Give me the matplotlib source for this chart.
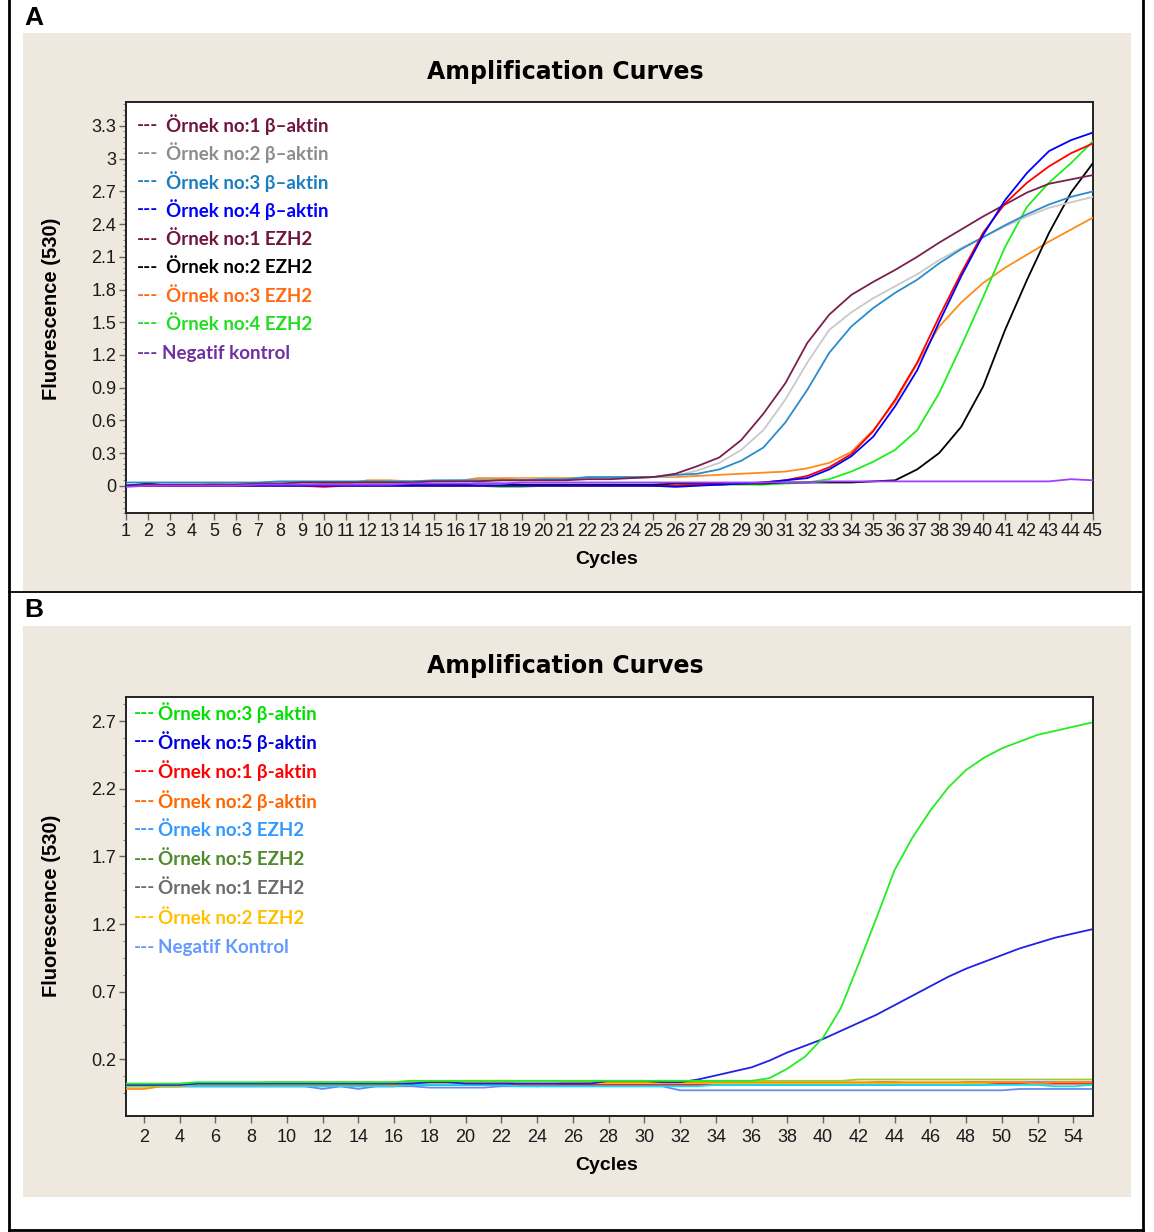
import matplotlib
matplotlib.use("Agg")
import matplotlib.pyplot as plt
from matplotlib.ticker import FixedLocator, MultipleLocator
from matplotlib.lines import Line2D
from matplotlib.patches import Rectangle

# ---------------- DATA : panel A ----------------
cycles_a = list(range(1, 46))
a_b1_aktin = [0.00, 0.01, 0.01, 0.01, 0.01, 0.01, 0.02, 0.02, 0.03, 0.03,
              0.03, 0.03, 0.03, 0.03, 0.04, 0.04, 0.04, 0.05, 0.05, 0.05,
              0.05, 0.06, 0.06, 0.07, 0.08, 0.11, 0.18, 0.26, 0.42, 0.66,
              0.94, 1.31, 1.57, 1.75, 1.87, 1.98, 2.10, 2.23, 2.35, 2.47,
              2.58, 2.69, 2.77, 2.81, 2.85]
a_b2_aktin = [0.00, 0.00, 0.01, 0.01, 0.01, 0.02, 0.02, 0.02, 0.02, 0.03,
              0.03, 0.03, 0.04, 0.04, 0.04, 0.05, 0.05, 0.05, 0.06, 0.06,
              0.06, 0.07, 0.07, 0.07, 0.08, 0.09, 0.14, 0.21, 0.33, 0.51,
              0.79, 1.13, 1.43, 1.59, 1.72, 1.83, 1.94, 2.07, 2.18, 2.28,
              2.38, 2.47, 2.55, 2.60, 2.65]
a_b3_aktin = [0.03, 0.03, 0.03, 0.03, 0.03, 0.03, 0.03, 0.04, 0.04, 0.04,
              0.04, 0.04, 0.04, 0.04, 0.05, 0.05, 0.05, 0.05, 0.05, 0.06,
              0.06, 0.08, 0.08, 0.08, 0.08, 0.10, 0.11, 0.15, 0.23, 0.35,
              0.58, 0.88, 1.22, 1.46, 1.63, 1.77, 1.89, 2.04, 2.17, 2.28,
              2.39, 2.49, 2.58, 2.65, 2.70]
a_b4_aktin = [0.00, 0.00, 0.00, 0.00, 0.00, 0.00, 0.00, 0.00, 0.00, 0.00,
              0.00, 0.00, 0.00, 0.00, 0.00, 0.00, 0.00, 0.00, 0.00, 0.00,
              0.00, 0.00, 0.00, 0.00, 0.00, -0.01, 0.00, 0.01, 0.02, 0.03,
              0.05, 0.07, 0.15, 0.27, 0.45, 0.73, 1.06, 1.50, 1.92, 2.30,
              2.62, 2.87, 3.07, 3.17, 3.24]
a_e1_ezh2 = [0.00, 0.00, 0.00, 0.00, 0.00, 0.00, 0.00, 0.00, 0.00, -0.01,
             0.00, 0.00, 0.00, 0.00, 0.00, 0.00, 0.00, 0.00, 0.00, 0.00,
             0.00, 0.00, 0.00, 0.00, 0.00, 0.00, 0.01, 0.01, 0.02, 0.03,
             0.05, 0.09, 0.17, 0.29, 0.50, 0.79, 1.13, 1.55, 1.95, 2.32,
             2.59, 2.78, 2.93, 3.05, 3.14]
a_e2_ezh2 = [0.00, 0.02, 0.00, 0.00, 0.00, 0.00, 0.01, 0.01, 0.01, 0.01,
             0.01, 0.01, 0.01, 0.01, 0.01, 0.01, 0.02, 0.02, 0.01, 0.01,
             0.01, 0.01, 0.01, 0.01, 0.01, 0.02, 0.02, 0.02, 0.02, 0.02,
             0.03, 0.03, 0.03, 0.03, 0.04, 0.05, 0.15, 0.30, 0.54, 0.91,
             1.43, 1.89, 2.32, 2.69, 2.96]
a_e3_ezh2 = [0.00, 0.00, 0.00, 0.00, 0.02, 0.02, 0.02, 0.02, 0.02, 0.02,
             0.02, 0.05, 0.05, 0.04, 0.04, 0.04, 0.07, 0.07, 0.07, 0.07,
             0.07, 0.07, 0.07, 0.07, 0.08, 0.08, 0.09, 0.10, 0.11, 0.12,
             0.13, 0.16, 0.21, 0.31, 0.51, 0.77, 1.12, 1.46, 1.68, 1.86,
             2.00, 2.12, 2.24, 2.35, 2.46]
a_e4_ezh2 = [0.00, 0.00, 0.00, 0.00, 0.00, 0.00, 0.00, 0.00, 0.00, 0.00,
             0.00, 0.00, 0.00, 0.00, 0.00, 0.00, 0.00, -0.01, -0.01, 0.00,
             0.00, 0.00, 0.00, 0.00, 0.00, 0.00, 0.01, 0.01, 0.01, 0.01,
             0.02, 0.03, 0.06, 0.13, 0.22, 0.33, 0.51, 0.85, 1.28, 1.73,
             2.19, 2.56, 2.78, 2.96, 3.16]
a_negatif = [-0.01, 0.00, 0.00, 0.00, 0.00, 0.00, 0.01, 0.01, 0.01, 0.01,
             0.01, 0.01, 0.01, 0.02, 0.02, 0.02, 0.02, 0.02, 0.03, 0.03,
             0.03, 0.03, 0.03, 0.03, 0.03, 0.03, 0.03, 0.03, 0.03, 0.03,
             0.03, 0.03, 0.04, 0.04, 0.04, 0.04, 0.04, 0.04, 0.04, 0.04,
             0.04, 0.04, 0.04, 0.06, 0.05]
labels_a = ["Örnek no:1 β–aktin", "Örnek no:2 β–aktin", "Örnek no:3 β–aktin",
            "Örnek no:4 β–aktin", "Örnek no:1 EZH2", "Örnek no:2 EZH2",
            "Örnek no:3 EZH2", "Örnek no:4 EZH2", "Negatif kontrol"]
yticks_a = [0, 0.3, 0.6, 0.9, 1.2, 1.5, 1.8, 2.1, 2.4, 2.7, 3.0, 3.3]
ytick_labels_a = ["0", "0.3", "0.6", "0.9", "1.2", "1.5", "1.8", "2.1", "2.4", "2.7", "3", "3.3"]

# ---------------- DATA : panel B ----------------
cycles_b = list(range(1, 56))
b_b3_aktin = [0.02, 0.02, 0.02, 0.02, 0.03, 0.03, 0.03, 0.03, 0.03, 0.03, 0.03,
              0.03, 0.03, 0.03, 0.03, 0.03, 0.04, 0.04, 0.04, 0.04, 0.04, 0.04,
              0.04, 0.04, 0.04, 0.04, 0.04, 0.04, 0.04, 0.04, 0.04, 0.04, 0.04,
              0.04, 0.04, 0.04, 0.06, 0.13, 0.22, 0.36, 0.58, 0.91, 1.25, 1.60,
              1.84, 2.04, 2.21, 2.34, 2.43, 2.50, 2.55, 2.60, 2.63, 2.66, 2.69]
b_b5_aktin = [0.01, 0.01, 0.01, 0.01, 0.02, 0.02, 0.02, 0.02, 0.02, 0.02, 0.02,
              0.02, 0.02, 0.02, 0.02, 0.02, 0.02, 0.03, 0.03, 0.02, 0.02, 0.02,
              0.02, 0.02, 0.02, 0.02, 0.02, 0.04, 0.04, 0.04, 0.03, 0.03, 0.05,
              0.08, 0.11, 0.14, 0.19, 0.25, 0.30, 0.35, 0.41, 0.47, 0.53, 0.60,
              0.67, 0.74, 0.81, 0.87, 0.92, 0.97, 1.02, 1.06, 1.10, 1.13, 1.16]
b_b1_aktin = [0.00, 0.00, 0.00, 0.00, 0.00, 0.00, 0.00, 0.00, 0.00, 0.00, 0.00,
              0.00, 0.00, 0.00, 0.00, 0.00, 0.01, 0.01, 0.01, 0.01, 0.01, 0.01,
              0.01, 0.01, 0.01, 0.01, 0.01, 0.01, 0.01, 0.01, 0.01, 0.01, 0.01,
              0.01, 0.01, 0.01, 0.01, 0.01, 0.01, 0.01, 0.01, 0.01, 0.01, 0.01,
              0.01, 0.01, 0.01, 0.01, 0.01, 0.02, 0.02, 0.02, 0.02, 0.02, 0.02]
b_b2_aktin = [-0.02, -0.02, 0.00, 0.00, 0.02, 0.02, 0.02, 0.02, 0.02, 0.02, 0.02,
              0.02, 0.02, 0.02, 0.02, 0.01, 0.03, 0.03, 0.03, 0.03, 0.03, 0.03,
              0.02, 0.02, 0.02, 0.03, 0.03, 0.03, 0.03, 0.03, 0.03, 0.03, 0.03,
              0.03, 0.03, 0.03, 0.03, 0.03, 0.03, 0.03, 0.03, 0.03, 0.03, 0.03,
              0.03, 0.03, 0.03, 0.03, 0.03, 0.03, 0.03, 0.02, 0.03, 0.03, 0.03]
b_e3_ezh2 = [0.00, 0.00, 0.00, 0.00, 0.00, 0.00, 0.00, 0.00, 0.00, 0.00, 0.00,
             0.00, 0.00, 0.00, 0.00, 0.00, 0.01, 0.01, 0.01, 0.01, 0.01, 0.01,
             0.00, 0.00, 0.00, 0.00, 0.00, 0.00, 0.00, 0.00, 0.00, 0.00, 0.00,
             0.01, 0.01, 0.01, 0.01, 0.01, 0.01, 0.01, 0.01, 0.01, 0.01, 0.01,
             0.01, 0.01, 0.01, 0.01, 0.01, 0.01, 0.01, 0.01, 0.00, 0.00, 0.01]
b_e5_ezh2 = [0.00, 0.00, 0.00, 0.00, 0.02, 0.02, 0.02, 0.02, 0.03, 0.03, 0.03,
             0.03, 0.03, 0.03, 0.03, 0.03, 0.04, 0.04, 0.04, 0.04, 0.04, 0.04,
             0.04, 0.04, 0.04, 0.04, 0.04, 0.04, 0.04, 0.04, 0.04, 0.04, 0.04,
             0.04, 0.04, 0.04, 0.04, 0.04, 0.04, 0.04, 0.04, 0.05, 0.05, 0.05,
             0.05, 0.05, 0.05, 0.05, 0.05, 0.05, 0.05, 0.05, 0.05, 0.05, 0.05]
b_e1_ezh2 = [0.01, 0.01, 0.01, 0.01, 0.01, 0.01, 0.01, 0.01, 0.01, 0.01, 0.01,
             0.01, 0.01, 0.01, 0.01, 0.01, 0.01, 0.01, 0.01, 0.01, 0.01, 0.01,
             0.01, 0.00, 0.01, 0.01, 0.01, 0.01, 0.01, 0.01, 0.01, 0.01, 0.01,
             0.02, 0.02, 0.02, 0.02, 0.02, 0.02, 0.02, 0.02, 0.02, 0.03, 0.03,
             0.02, 0.02, 0.02, 0.03, 0.03, 0.03, 0.03, 0.03, 0.03, 0.03, 0.03]
b_e2_ezh2 = [0.01, 0.01, 0.01, 0.01, 0.01, 0.01, 0.01, 0.01, 0.01, 0.01, 0.01,
             0.01, 0.01, 0.01, 0.01, 0.01, 0.02, 0.02, 0.02, 0.02, 0.02, 0.02,
             0.02, 0.02, 0.02, 0.02, 0.02, 0.02, 0.02, 0.02, 0.02, 0.02, 0.02,
             0.02, 0.02, 0.02, 0.02, 0.02, 0.02, 0.02, 0.02, 0.02, 0.02, 0.02,
             0.02, 0.02, 0.02, 0.02, 0.02, 0.02, 0.02, 0.02, 0.02, 0.02, 0.02]
b_negatif = [0.00, 0.00, 0.00, 0.00, 0.00, 0.00, 0.00, 0.00, 0.00, 0.00, 0.00,
             -0.02, 0.00, -0.02, 0.00, 0.00, 0.00, -0.01, -0.01, -0.01, -0.01, 0.00,
             0.00, 0.00, 0.00, 0.00, 0.00, 0.00, 0.00, 0.00, 0.00, -0.03, -0.03,
             -0.03, -0.03, -0.03, -0.03, -0.03, -0.03, -0.03, -0.03, -0.03, -0.03, -0.03,
             -0.03, -0.03, -0.03, -0.03, -0.03, -0.03, -0.02, -0.02, -0.02, -0.02, -0.02]
labels_b = ["Örnek no:3 β-aktin", "Örnek no:5 β-aktin", "Örnek no:1 β-aktin",
            "Örnek no:2 β-aktin", "Örnek no:3 EZH2", "Örnek no:5 EZH2",
            "Örnek no:1 EZH2", "Örnek no:2 EZH2", "Negatif Kontrol"]
yticks_b = [0.2, 0.7, 1.2, 1.7, 2.2, 2.7]
ytick_labels_b = ["0.2", "0.7", "1.2", "1.7", "2.2", "2.7"]
xticks_b = list(range(2, 56, 2))

# ---------------- STYLE ----------------
W, H = 1154, 1232
BEIGE = "#efe8df"
line_cols_a = ["#7b1f4f", "#c9c9c9", "#2a8ccd", "#0000ff", "#ff0000",
               "#000000", "#ff8c1a", "#1eee1e", "#a040ff"]
text_cols_a = ["#70153f", "#8c8c8c", "#1a7fc1", "#0000ff", "#70153f",
               "#000000", "#ff6a13", "#22dd22", "#7030a0"]
line_cols_b = ["#22ee22", "#2020e8", "#ff2020", "#ff8c1a", "#00e5ff",
               "#9acd32", "#a040c0", "#ffc000", "#6a8cf0"]
text_cols_b = ["#00e000", "#0000e0", "#ff0000", "#ff6600", "#3399ff",
               "#4f8a2b", "#6d6d6d", "#ffc000", "#6699ff"]

TICKFONT = ["Liberation Sans", "DejaVu Sans"]
LEGFONT = ["Lato", "DejaVu Sans"]

fig = plt.figure(figsize=(W / 100, H / 100), dpi=100)
fig.patch.set_facecolor("white")


def fx(p):
    return p / W


def fy(p):
    return 1 - p / H


# beige panels
for (x0, y0, x1, y1) in [(23, 33, 1131, 591), (23, 626, 1131, 1197)]:
    fig.add_artist(Rectangle((fx(x0), fy(y1)), fx(x1) - fx(x0), fy(y0) - fy(y1),
                             transform=fig.transFigure, facecolor=BEIGE,
                             edgecolor="none", zorder=0))

# outer frame and divider
for xs, ys, lw in [((9, 9), (0, 1231), 2.0), ((1143, 1143), (0, 1231), 2.0),
                   ((9, 1143), (1230, 1230), 2.0), ((9, 1143), (592, 592), 1.3)]:
    fig.add_artist(Line2D([fx(xs[0]), fx(xs[1])], [fy(ys[0]), fy(ys[1])],
                          transform=fig.transFigure, color="black", lw=lw, zorder=5))

fig.text(fx(24), fy(18), "A", fontsize=19, fontweight="bold", ha="left", va="center",
         family=TICKFONT)
fig.text(fx(24), fy(610), "B", fontsize=19, fontweight="bold", ha="left", va="center",
         family=TICKFONT)


def style_axes(ax):
    ax.set_facecolor("white")
    for s in ax.spines.values():
        s.set_color("#222222")
        s.set_linewidth(1.4)
    ax.tick_params(axis="both", which="major", direction="out", length=5, width=1,
                   color="#666666", labelcolor="#1a1a1a", labelsize=13)
    ax.tick_params(axis="y", which="minor", direction="out", length=2.5, width=0.8,
                   color="#888888")
    ax.tick_params(axis="x", which="minor", length=0)
    for lab in ax.get_xticklabels() + ax.get_yticklabels():
        lab.set_family(TICKFONT)


# ---------------- PANEL A ----------------
axA = fig.add_axes([fx(126), fy(513), fx(1093) - fx(126), fy(102) - fy(513)])
series_a = [a_b1_aktin, a_b2_aktin, a_b3_aktin, a_b4_aktin, a_e1_ezh2,
            a_e2_ezh2, a_e3_ezh2, a_e4_ezh2, a_negatif]
draw_order_a = [6, 7, 5, 1, 2, 0, 4, 3, 8]
for i in draw_order_a:
    axA.plot(cycles_a, series_a[i], color=line_cols_a[i], lw=1.3, zorder=3)
axA.set_xlim(1, 45)
axA.set_ylim(-0.25, 3.52)
axA.set_xticks(cycles_a)
axA.set_xticklabels([str(c) for c in cycles_a])
axA.set_yticks(yticks_a)
axA.set_yticklabels(ytick_labels_a)
axA.yaxis.set_minor_locator(MultipleLocator(0.05))
style_axes(axA)
axA.tick_params(axis="x", pad=2)
axA.tick_params(axis="y", pad=2)

fig.text(fx(565), fy(72), "Amplification Curves", fontsize=17, fontweight="bold",
         ha="center", va="center", family="DejaVu Sans")
fig.text(fx(52), fy(309), "Fluorescence (530)", fontsize=14.5, fontweight="bold",
         rotation=90, ha="center", va="center", family=TICKFONT)
fig.text(fx(607), fy(560), "Cycles", fontsize=14, fontweight="bold",
         ha="center", va="center", family=TICKFONT)

rows_a = [125, 153, 182, 210, 239, 267, 296, 324, 353]
for i, lab in enumerate(labels_a):
    fig.text(fx(137), fy(rows_a[i]), "---", color=text_cols_a[i], fontsize=13.5,
             fontweight="bold", ha="left", va="center", family=LEGFONT)
    x_txt = 162 if i == 8 else 166
    fig.text(fx(x_txt), fy(rows_a[i]), lab, color=text_cols_a[i], fontsize=13.5,
             fontweight="bold", ha="left", va="center", family=LEGFONT)

# ---------------- PANEL B ----------------
axB = fig.add_axes([fx(126), fy(1116), fx(1093) - fx(126), fy(697) - fy(1116)])
series_b = [b_b3_aktin, b_b5_aktin, b_b1_aktin, b_b2_aktin, b_e3_ezh2,
            b_e5_ezh2, b_e1_ezh2, b_e2_ezh2, b_negatif]
draw_order_b = [8, 6, 7, 2, 4, 3, 5, 1, 0]
for i in draw_order_b:
    axB.plot(cycles_b, series_b[i], color=line_cols_b[i], lw=1.3, zorder=3)
axB.set_xlim(1, 55.1)
axB.set_ylim(-0.22, 2.88)
axB.set_xticks(xticks_b)
axB.set_xticklabels([str(c) for c in xticks_b])
axB.set_yticks(yticks_b)
axB.set_yticklabels(ytick_labels_b)
axB.yaxis.set_minor_locator(FixedLocator([0.2 + 0.125 * k for k in range(-2, 22)]))
style_axes(axB)
axB.tick_params(axis="x", pad=4)
axB.tick_params(axis="y", pad=2)

fig.text(fx(565), fy(666), "Amplification Curves", fontsize=17, fontweight="bold",
         ha="center", va="center", family="DejaVu Sans")
fig.text(fx(52), fy(906), "Fluorescence (530)", fontsize=14.5, fontweight="bold",
         rotation=90, ha="center", va="center", family=TICKFONT)
fig.text(fx(607), fy(1165), "Cycles", fontsize=14, fontweight="bold",
         ha="center", va="center", family=TICKFONT)

rows_b = [713, 742, 771, 801, 830, 859, 888, 918, 947]
for i, lab in enumerate(labels_b):
    fig.text(fx(134), fy(rows_b[i]), "---", color=text_cols_b[i], fontsize=13.5,
             fontweight="bold", ha="left", va="center", family=LEGFONT)
    fig.text(fx(158), fy(rows_b[i]), lab, color=text_cols_b[i], fontsize=13.5,
             fontweight="bold", ha="left", va="center", family=LEGFONT)

fig.savefig("out.png", dpi=100, facecolor="white")
